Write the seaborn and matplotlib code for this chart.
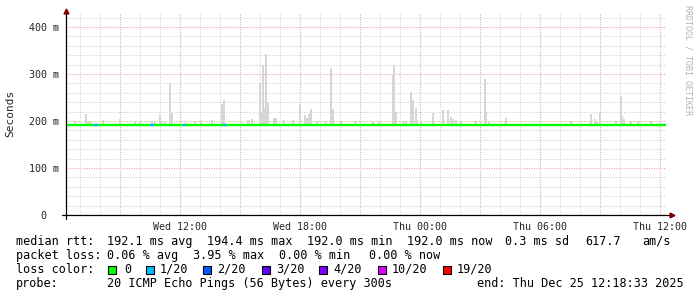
import matplotlib
matplotlib.use("Agg")
import matplotlib.pyplot as plt
import seaborn as sns
import pandas as pd
from matplotlib.patches import Rectangle
from matplotlib.ticker import FixedLocator, MultipleLocator

# ---------------- data ----------------
# smoke bins: time (hours since Wed 00:00) and max rtt (ms)
smoke_hours = [6.72, 7.27, 7.35, 7.45, 7.55, 8.14, 8.98, 9.75, 9.99, 10.60,
               10.75, 10.97, 11.07, 11.25, 11.49, 11.57, 12.27, 12.72, 13.02, 13.60,
               14.10, 14.20, 15.40, 15.60, 15.97, 16.02, 16.14, 16.22, 16.29, 16.39,
               16.70, 16.78, 17.19, 17.65, 17.97, 18.22, 18.35, 18.45, 18.54, 18.85,
               19.27, 19.54, 19.64, 20.02, 20.72, 21.64, 21.94, 22.62, 22.69, 22.77,
               23.14, 23.30, 23.52, 23.62, 23.77, 23.85, 24.05, 24.64, 25.15, 25.39,
               25.54, 25.64, 25.77, 26.02, 26.80, 27.22, 27.27, 27.44, 28.27, 31.52,
               32.55, 32.74, 32.82, 32.97, 33.77, 34.04, 34.10, 34.19, 34.52, 34.89,
               35.55]
smoke_max_ms = [198, 215, 200, 200, 199, 202, 205, 199, 200, 200,
                198, 213, 200, 199, 280, 218, 196, 198, 202, 202,
                237, 244, 202, 204, 281, 220, 319, 228, 342, 238,
                207, 207, 202, 202, 234, 213, 206, 215, 225, 200,
                200, 313, 225, 200, 200, 198, 199, 301, 319, 219,
                199, 199, 262, 245, 228, 202, 198, 216, 223, 223,
                209, 205, 203, 200, 199, 289, 219, 200, 206, 200,
                215, 204, 198, 216, 200, 253, 211, 205, 200, 200,
                200]
smoke_min_ms = 190

median_hours = [6.309, 36.309]
median_ms = [192.0, 192.0]

loss_hours = [7.80, 10.60, 12.22, 14.22]
loss_pings = [1, 1, 1, 1]

loss_levels = [0, 1, 2, 3, 4, 10, 19]
loss_colors = ["#00ff00", "#00b8ff", "#0059ff", "#5e00ff", "#7e00ff", "#dd00ff", "#ff0000"]

tick_hours = [9, 12, 15, 18, 21, 24, 27, 30, 33, 36]
tick_labels = ["", "Wed 12:00", "", "Wed 18:00", "", "Thu 00:00", "", "Thu 06:00", "", "Thu 12:00"]
ytick_ms = [0, 100, 200, 300, 400]
ytick_labels = ["0  ", "100 m", "200 m", "300 m", "400 m"]

rtt_stats = ["192.1 ms avg", "194.4 ms max", "192.0 ms min", "192.0 ms now", "0.3 ms sd", "617.7", "am/s"]
loss_stats = ["0.06 % avg", "3.95 % max", "0.00 % min", "0.00 % now"]
probe_text = "20 ICMP Echo Pings (56 Bytes) every 300s"
end_text = "end: Thu Dec 25 12:18:33 2025"
# --------------------------------------

sns.set_theme(style="white")
plt.rcParams["font.family"] = ["DejaVu Sans Mono"]

W, H = 697, 297
fig = plt.figure(figsize=(W / 100, H / 100), dpi=100)
fig.patch.set_facecolor("white")

def fx(px):
    return px / W

def fy(py):
    return 1 - py / H

ax_left, ax_right, ax_top, ax_bot = 66.3, 666.3, 13, 215
ax = fig.add_axes([fx(ax_left), fy(ax_bot), (ax_right - ax_left) / W, (ax_bot - ax_top) / H])
ax.set_facecolor("white")
ax.set_xlim(6.309, 36.309)
ax.set_ylim(0, (ax_bot - ax_top) / 0.47)

# grid
ax.xaxis.set_major_locator(FixedLocator(tick_hours))
ax.xaxis.set_minor_locator(MultipleLocator(1))
ax.set_xticklabels(tick_labels)
ax.yaxis.set_major_locator(FixedLocator(ytick_ms))
ax.yaxis.set_minor_locator(MultipleLocator(20))
ax.set_yticklabels(ytick_labels)
ax.grid(which="minor", color="#d2d2d2", linestyle=(0, (1, 1.4)), linewidth=0.75)
ax.grid(which="major", color="#e8a0a0", linestyle=(0, (1, 1.4)), linewidth=0.75)
ax.set_axisbelow(True)
ax.tick_params(axis="x", which="major", length=2.5, width=0.7, color="#e08080", pad=3.5,
               labelsize=7.2, direction="inout")
ax.tick_params(axis="x", which="minor", length=1.8, width=0.6, color="#aaaaaa", direction="inout")
ax.tick_params(axis="y", which="both", length=0, pad=5, labelsize=7.2)
for s in ax.spines.values():
    s.set_visible(False)

# smoke
ax.bar(smoke_hours, [m - smoke_min_ms for m in smoke_max_ms], bottom=smoke_min_ms,
       width=0.1, color="#d6d6d6", linewidth=0, zorder=2)

# median line
med = pd.DataFrame({"hour": median_hours, "ms": median_ms})
sns.lineplot(data=med, x="hour", y="ms", color=loss_colors[0], linewidth=1.7, ax=ax, zorder=4)
for h, n in zip(loss_hours, loss_pings):
    c = loss_colors[loss_levels.index(n)]
    ax.plot([h - 1 / 12, h + 1 / 12], [median_ms[0], median_ms[0]], color=c, linewidth=1.7,
            solid_capstyle="butt", zorder=5)
ax.set_xlabel("")
ax.set_ylabel("")

# axes lines + arrows
ax.plot([-0.008, 1.007], [0, 0], transform=ax.transAxes, color="black", linewidth=0.9,
        clip_on=False, zorder=6)
ax.plot([0, 0], [-0.02, 1.0], transform=ax.transAxes, color="black", linewidth=0.9,
        clip_on=False, zorder=6)
ax.plot([1.01], [0], marker=">", markersize=3.5, color="#7f0000", transform=ax.transAxes,
        clip_on=False, zorder=7)
ax.plot([0], [1.01], marker="^", markersize=3.5, color="#7f0000", transform=ax.transAxes,
        clip_on=False, zorder=7)

# y label and watermark
fig.text(fx(10), fy(113), "Seconds", rotation=90, ha="center", va="center", fontsize=8)
fig.text(fx(688), fy(60), "RRDTOOL / TOBI OETIKER", rotation=270, ha="center", va="center",
         fontsize=6, color="#b3b3b3")

# legend
fs = 8.5
def t(x, y, s):
    fig.text(fx(x), fy(y), s, ha="left", va="baseline", fontsize=fs, color="black")

t(16, 245, "median rtt:")
for x, s in zip([107.3, 207.3, 306.7, 407, 505.3, 585.3, 642], rtt_stats):
    t(x, 245, s)
t(16, 259, "packet loss:")
for x, s in zip([107.3, 193.3, 279.3, 369], loss_stats):
    t(x, 259, s)
t(16, 273, "loss color:")
box_x = [108.3, 146, 203.3, 261.7, 319.3, 377.7, 442.7]
lab_x = [124, 160, 217.3, 276, 333.6, 392, 457]
for bx, lx, lv, c in zip(box_x, lab_x, loss_levels, loss_colors):
    fig.patches.append(Rectangle((fx(bx), fy(274)), 8 / W, 8 / H, transform=fig.transFigure,
                                 facecolor=c, edgecolor="black", linewidth=0.8))
    t(lx, 273, "0" if lv == 0 else f"{lv}/20")
t(16, 287, "probe:")
t(107.3, 287, probe_text)
t(477, 287, end_text)

fig.savefig("out.png", dpi=100, facecolor="white")
